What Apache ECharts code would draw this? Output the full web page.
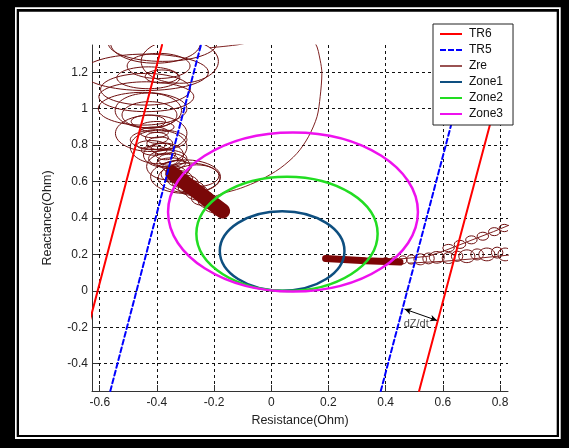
<!DOCTYPE html>
<html>
<head>
<meta charset="utf-8">
<script src="https://cdn.jsdelivr.net/npm/echarts@6/dist/echarts.min.js"></script>
<style>
html, body { margin: 0; padding: 0; background: #000; }
#chart { width: 569px; height: 448px; }
</style>
</head>
<body>
<div id="chart"></div>
<script>
var xTicks = [-0.6, -0.4, -0.2, 0, 0.2, 0.4, 0.6, 0.8];
var yTicks = [-0.4, -0.2, 0, 0.2, 0.4, 0.6, 0.8, 1, 1.2];

// blinder lines, [R, X] end points
var tr6Left = [[-0.699, -0.55], [-0.382, 1.35]];
var tr6Right = [[0.517, -0.55], [0.839, 1.35]];
var tr5Left = [[-0.563, -0.55], [-0.246, 1.35]];
var tr5Right = [[0.383, -0.55], [0.703, 1.35]];

// mho zones: [centre R, centre X, radius R, radius X]
var zone1 = [[0.038, 0.219, 0.218, 0.218]];
var zone2 = [[0.055, 0.313, 0.317, 0.314]];
var zone3 = [[0.076, 0.433, 0.437, 0.437]];

// impedance trajectory: loops [centre R, centre X, radius R, radius X]
var zreLoops = [
  [-0.38, 1.36, 0.19, 0.10], [-0.405, 1.36, 0.157, 0.11], [-0.32, 1.26, 0.135, 0.12],
  [-0.44, 1.20, 0.22, 0.10], [-0.394, 1.235, 0.11, 0.069], [-0.43, 1.17, 0.11, 0.06],
  [-0.383, 1.177, 0.058, 0.036], [-0.44, 1.107, 0.157, 0.087], [-0.437, 1.066, 0.166, 0.082],
  [-0.45, 1.0, 0.155, 0.09], [-0.43, 0.99, 0.116, 0.096], [-0.426, 0.966, 0.096, 0.073],
  [-0.42, 0.865, 0.125, 0.10], [-0.394, 0.83, 0.099, 0.055], [-0.394, 0.79, 0.099, 0.092],
  [-0.377, 0.746, 0.07, 0.066], [-0.362, 0.727, 0.067, 0.046], [-0.36, 0.683, 0.076, 0.074],
  [-0.30, 0.627, 0.122, 0.092], [-0.287, 0.62, 0.108, 0.082], [-0.262, 0.632, 0.079, 0.06],
  [-0.41, 0.87, 0.05, 0.03], [-0.40, 0.84, 0.04, 0.03], [-0.39, 0.81, 0.045, 0.035],
  [-0.38, 0.78, 0.04, 0.03], [-0.37, 0.75, 0.035, 0.03], [-0.36, 0.72, 0.035, 0.03],
  [-0.42, 0.80, 0.05, 0.025], [-0.41, 0.77, 0.045, 0.025], [-0.40, 0.90, 0.06, 0.03],
  [-0.43, 0.93, 0.06, 0.035], [-0.35, 0.70, 0.05, 0.03], [-0.33, 0.68, 0.05, 0.035],
  [-0.34, 0.64, 0.045, 0.045], [-0.32, 0.615, 0.045, 0.045], [-0.30, 0.59, 0.045, 0.045],
  [-0.28, 0.565, 0.045, 0.04], [-0.26, 0.54, 0.04, 0.04], [-0.24, 0.51, 0.04, 0.04],
  [-0.22, 0.49, 0.035, 0.035], [-0.20, 0.465, 0.035, 0.035], [-0.18, 0.44, 0.028, 0.028],
  [0.40, 0.165, 0.012, 0.018], [0.43, 0.168, 0.013, 0.02], [0.46, 0.17, 0.015, 0.022],
  [0.49, 0.172, 0.017, 0.025], [0.521, 0.173, 0.022, 0.03], [0.55, 0.178, 0.02, 0.03],
  [0.579, 0.184, 0.026, 0.032], [0.62, 0.18, 0.022, 0.03], [0.65, 0.19, 0.02, 0.028],
  [0.684, 0.19, 0.028, 0.035], [0.72, 0.2, 0.022, 0.03], [0.754, 0.2, 0.028, 0.035],
  [0.79, 0.21, 0.02, 0.03], [0.818, 0.2, 0.025, 0.035],
  [0.62, 0.235, 0.02, 0.02], [0.66, 0.255, 0.02, 0.022], [0.70, 0.28, 0.02, 0.022],
  [0.74, 0.30, 0.02, 0.022], [0.78, 0.325, 0.02, 0.022], [0.815, 0.345, 0.018, 0.02]
];
var zreArc = [
  [-0.215, 1.335], [-0.15, 1.345], [-0.09, 1.36], [0.0, 1.42], [0.1, 1.43], [0.154, 1.359],
  [0.171, 1.267], [0.177, 1.194], [0.171, 1.066], [0.16, 0.956], [0.13, 0.846], [0.09, 0.755],
  [0.031, 0.673], [-0.038, 0.609], [-0.108, 0.563], [-0.167, 0.536], [-0.2, 0.517]
];
var zreUpperRight = [[0.45, 0.175], [0.549, 0.19], [0.614, 0.225], [0.695, 0.275], [0.777, 0.325], [0.834, 0.362]];
var zreLowerRight = [[0.48, 0.152], [0.60, 0.162], [0.70, 0.175], [0.834, 0.197]];
var zreBlob = [[-0.345, 0.645], [-0.17, 0.438]];
var zreBand = [[0.19, 0.178], [0.33, 0.165], [0.45, 0.158]];

var dzArrow = [[0.466, -0.100], [0.580, -0.163]];
var dzText = [[0.507, -0.183]];

var FONT = 'Liberation Sans, Arial, sans-serif';
var chart = echarts.init(document.getElementById('chart'));

function ellipses(color, width) {
  return function (params, api) {
    var c = api.coord([api.value(0), api.value(1)]);
    var s = api.size([api.value(2), api.value(3)]);
    return {
      type: 'ellipse',
      shape: {cx: c[0], cy: c[1], rx: s[0], ry: s[1]},
      style: {fill: 'none', stroke: color, lineWidth: width}
    };
  };
}

function line(name, data, color, width, type, z) {
  return {
    name: name, type: 'line', data: data, z: z, symbol: 'none', clip: true,
    itemStyle: {color: color},
    lineStyle: {color: color, width: width, type: type, cap: 'round'}
  };
}

var blob = line('Zre', zreBlob, '#7a0808', 15, 'solid', 2);
var band = line('Zre', zreBand, '#7d0505', 7, 'solid', 2);
var arc = line('Zre', zreArc, '#7f2222', 1, 'solid', 2);
arc.smooth = 0.3;

var tr6a = line('TR6', tr6Left, '#ff0000', 2, 'solid', 4);
tr6a.markLine = {
  silent: true, animation: false, symbol: ['arrow', 'arrow'], symbolSize: [5, 7],
  lineStyle: {color: '#000', width: 1, type: 'solid'}, label: {show: false},
  data: [[{coord: dzArrow[0]}, {coord: dzArrow[1]}]]
};

chart.setOption({
  animation: false,
  backgroundColor: 'transparent',
  graphic: [
    {type: 'rect', z: -10, shape: {x: 0, y: 0, width: 569, height: 448}, style: {fill: '#000'}},
    {type: 'rect', z: -9, shape: {x: 15, y: 7.3, width: 545.7, height: 431.7}, style: {fill: '#fff'}},
    {type: 'rect', z: -8, shape: {x: 16.7, y: 9, width: 542.3, height: 428}, style: {fill: '#000'}},
    {type: 'rect', z: -7, shape: {x: 19, y: 11.7, width: 537.7, height: 423.3}, style: {fill: '#fff'}}
  ],
  grid: {left: 92, right: 61, top: 45, bottom: 57},
  legend: {
    orient: 'vertical', left: 433, top: 24, selectedMode: false, z: 10,
    padding: [3, 10, 4, 7], itemGap: 2, itemWidth: 22, itemHeight: 2,
    backgroundColor: '#fff', borderColor: '#222', borderWidth: 1,
    textStyle: {fontFamily: FONT, fontSize: 12, color: '#111', lineHeight: 14, padding: [0, 0, 0, 2]},
    data: [
      {name: 'TR6', icon: 'rect', itemStyle: {color: '#ff0000'}},
      {name: 'TR5', icon: 'path://M0,0h6v2h-6z M8,0h6v2h-6z M16,0h6v2h-6z', itemStyle: {color: '#0000ff'}},
      {name: 'Zre', icon: 'rect', itemStyle: {color: '#9a5252'}},
      {name: 'Zone1', icon: 'rect', itemStyle: {color: '#0e4f80'}},
      {name: 'Zone2', icon: 'rect', itemStyle: {color: '#22dd22'}},
      {name: 'Zone3', icon: 'rect', itemStyle: {color: '#ee11ee'}}
    ]
  },
  xAxis: {
    type: 'value', min: -0.627, max: 0.828,
    name: 'Resistance(Ohm)', nameLocation: 'middle', nameGap: 22,
    nameTextStyle: {fontFamily: FONT, fontSize: 12.5, color: '#222'},
    axisLine: {onZero: false, lineStyle: {color: '#333', width: 1}},
    axisTick: {inside: true, length: 6, customValues: xTicks, lineStyle: {color: '#333'}},
    axisLabel: {customValues: xTicks, fontFamily: FONT, fontSize: 12, color: '#222', margin: 6},
    splitLine: {show: true, lineStyle: {color: '#111', width: 1, type: [3, 3]}}
  },
  yAxis: {
    type: 'value', min: -0.55, max: 1.35,
    name: 'Reactance(Ohm)', nameLocation: 'middle', nameGap: 38,
    nameTextStyle: {fontFamily: FONT, fontSize: 12.5, color: '#222'},
    axisLine: {show: true, onZero: false, lineStyle: {color: '#333', width: 1}},
    axisTick: {show: true, inside: true, length: 6, customValues: yTicks, lineStyle: {color: '#333'}},
    axisLabel: {customValues: yTicks, fontFamily: FONT, fontSize: 12, color: '#222', margin: 4},
    splitLine: {show: true, lineStyle: {color: '#111', width: 1, type: [3, 3]}}
  },
  series: [
    blob, band, arc,
    line('Zre', zreUpperRight, '#7f2222', 1, 'solid', 2),
    line('Zre', zreLowerRight, '#7f2222', 1, 'solid', 2),
    {name: 'Zre', type: 'custom', z: 2, clip: true, data: zreLoops, renderItem: ellipses('#6e0e0e', 1)},
    tr6a,
    line('TR6', tr6Right, '#ff0000', 2, 'solid', 4),
    line('TR5', tr5Left, '#0000ff', 2, [5, 3], 4),
    line('TR5', tr5Right, '#0000ff', 2, [5, 3], 4),
    {name: 'Zone1', type: 'custom', z: 5, clip: true, data: zone1, renderItem: ellipses('#0e4f80', 2.5)},
    {name: 'Zone2', type: 'custom', z: 5, clip: true, data: zone2, renderItem: ellipses('#22dd22', 2.5)},
    {name: 'Zone3', type: 'custom', z: 5, clip: true, data: zone3, renderItem: ellipses('#ee11ee', 2.5)},
    {
      name: 'dZ/dt', type: 'scatter', data: dzText, symbolSize: 0, z: 6, silent: true,
      label: {show: true, position: 'inside', formatter: 'dZ/dt', fontFamily: FONT, fontSize: 11, color: '#222'}
    }
  ]
});
</script>
</body>
</html>
